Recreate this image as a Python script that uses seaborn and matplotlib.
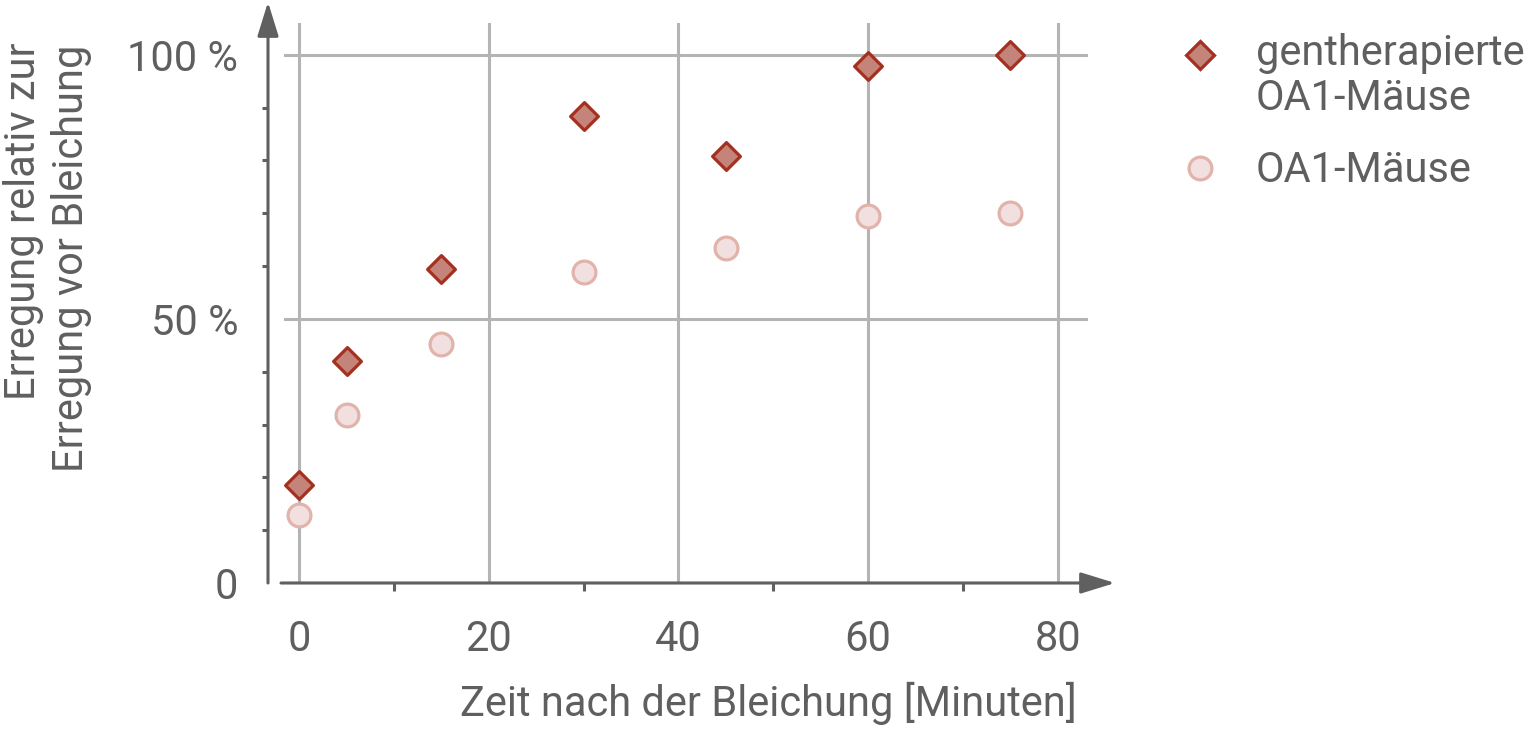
import numpy as np
import pandas as pd
import matplotlib
matplotlib.use("Agg")
import matplotlib.pyplot as plt
import seaborn as sns
from matplotlib.ticker import MultipleLocator, FixedLocator
from matplotlib.lines import Line2D

# -------------------------
# DATA
# -------------------------
zeit_minuten = [0, 5, 15, 30, 45, 60, 75]
gentherapiert = [18.6, 42.0, 59.5, 88.4, 80.9, 97.9, 100.0]
oa1_maeuse = [12.9, 31.8, 45.3, 58.9, 63.4, 69.5, 70.1]

label_gen = "gentherapierte\nOA1-Mäuse"
label_oa1 = "OA1-Mäuse"
y_label = "Erregung relativ zur\nErregung vor Bleichung"
x_label = "Zeit nach der Bleichung [Minuten]"
y_ticks = [0, 50, 100]
y_ticklabels = ["0", "50 %", "100 %"]
x_ticks = [0, 20, 40, 60, 80]

# -------------------------
# STYLE
# -------------------------
TEXT = "#5f5f5f"
AXIS = "#606060"
GRID = "#b4b4b4"
GEN_FACE, GEN_EDGE = "#c4847a", "#a33020"
OA1_FACE, OA1_EDGE = "#f2e0e0", "#e0b4aa"
FS = 30

sns.set_theme(style="white")
plt.rcParams["font.family"] = ["Roboto", "DejaVu Sans"]
plt.rcParams["text.color"] = TEXT
plt.rcParams["axes.labelcolor"] = TEXT

W, H = 1538, 729
fig = plt.figure(figsize=(W / 100, H / 100), dpi=100)
ax_l, ax_r, ax_t, ax_b = 284, 1088, 23, 583
ax = fig.add_axes([ax_l / W, 1 - ax_b / H, (ax_r - ax_l) / W, (ax_b - ax_t) / H])

df_gen = pd.DataFrame({"zeit": zeit_minuten, "wert": gentherapiert})
df_oa1 = pd.DataFrame({"zeit": zeit_minuten, "wert": oa1_maeuse})

sns.scatterplot(data=df_oa1, x="zeit", y="wert", ax=ax, marker="o", s=270,
                color=OA1_FACE, edgecolor=OA1_EDGE, linewidth=2.3, zorder=3, clip_on=False)
sns.scatterplot(data=df_gen, x="zeit", y="wert", ax=ax, marker="D", s=200,
                color=GEN_FACE, edgecolor=GEN_EDGE, linewidth=2.3, zorder=4, clip_on=False)

ax.set_xlim(-1.6, 83.2)
ax.set_ylim(0, 106)

# ticks and grid
ax.xaxis.set_major_locator(FixedLocator(x_ticks))
ax.xaxis.set_minor_locator(FixedLocator([10, 30, 50, 70]))
ax.yaxis.set_major_locator(FixedLocator(y_ticks))
ax.yaxis.set_minor_locator(MultipleLocator(10))
ax.set_yticklabels(y_ticklabels)
ax.grid(True, which="major", color=GRID, linewidth=2.2)
ax.set_axisbelow(True)

# spines are replaced by arrows drawn by hand
for side in ["top", "right", "left", "bottom"]:
    ax.spines[side].set_visible(False)
ax.spines["left"].set_position(("outward", 16 * 0.72))

ax.tick_params(axis="both", which="major", colors=AXIS, labelcolor=TEXT,
               labelsize=FS, width=2.2, direction="out")
ax.tick_params(axis="y", which="major", length=11.5, pad=10)
ax.tick_params(axis="y", which="minor", length=4.5, width=2.2, colors=AXIS, left=True)
ax.tick_params(axis="x", which="major", length=12, pad=14)
ax.tick_params(axis="x", which="minor", length=5.5, width=2.2, colors=AXIS, bottom=True)

arrow = dict(arrowstyle="-|>,head_length=21,head_width=6.5", mutation_scale=1,
             color=AXIS, lw=2.2, shrinkA=0, shrinkB=0)
yx = (268 - ax_l) / (ax_r - ax_l)
ax.annotate("", xy=(yx, (ax_b - 2) / (ax_b - ax_t)), xytext=(yx, 0),
            xycoords="axes fraction", textcoords="axes fraction",
            arrowprops=arrow, annotation_clip=False)
ax.annotate("", xy=((1115 - ax_l) / (ax_r - ax_l), 0), xytext=((281 - ax_l) / (ax_r - ax_l), 0),
            xycoords="axes fraction", textcoords="axes fraction",
            arrowprops=arrow, annotation_clip=False)

# axis labels
ax.set_xlabel(x_label, fontsize=FS, color=TEXT)
ax.xaxis.set_label_coords((768 - ax_l) / (ax_r - ax_l), -(703 - ax_b) / (ax_b - ax_t))
ax.xaxis.label.set_va("center")
ax.set_ylabel("")

ylines = y_label.split("\n")
fig.text(24 / W, 1 - 221 / H, ylines[0], fontsize=FS, rotation=90, ha="center", va="center")
fig.text(72 / W, 1 - 258 / H, ylines[1], fontsize=FS, rotation=90, ha="center", va="center")

# legend (manual, marker aligned with first text line)
fig.add_artist(Line2D([1200 / W], [1 - 55 / H], marker="D", markersize=14.1,
                      markerfacecolor=GEN_FACE, markeredgecolor=GEN_EDGE,
                      markeredgewidth=2.3, linestyle="none", transform=fig.transFigure))
fig.add_artist(Line2D([1200 / W], [1 - 168 / H], marker="o", markersize=16.4,
                      markerfacecolor=OA1_FACE, markeredgecolor=OA1_EDGE,
                      markeredgewidth=2.3, linestyle="none", transform=fig.transFigure))
gen_lines = label_gen.split("\n")
fig.text(1256 / W, 1 - 54 / H, gen_lines[0], fontsize=FS, va="center", ha="left")
fig.text(1256 / W, 1 - 99 / H, gen_lines[1], fontsize=FS, va="center", ha="left")
fig.text(1256 / W, 1 - 170 / H, label_oa1, fontsize=FS, va="center", ha="left")

fig.savefig("out.png", dpi=100)
